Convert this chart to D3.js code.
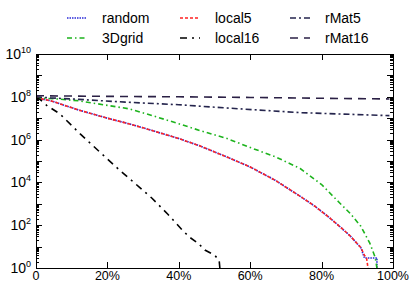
<!DOCTYPE html>
<html lang="en">
    <head>
        <meta charset="utf-8">
        <style type="text/css">
            body { margin: 0; background: #fff; }
            text { font-family: "Liberation Sans", Arial, sans-serif; fill: #000; }
            .frame { fill: none; stroke: #000; stroke-width: 1px; }
            .tick { stroke: #000; stroke-width: 1px; }
            .series { fill: none; stroke-width: 1.6px; }
        </style>
    </head>
    <body>
        <svg width="416" height="292"></svg>

        <script src="https://d3js.org/d3.v7.min.js"></script>
        <script>
            // x = percent of vertices, y = log10 of the count
            var randomX = [0, 4, 8, 12, 20, 26, 30, 40, 46, 54, 60, 67, 74, 78, 82, 85, 88, 91, 92, 95.5, 95.5];
            var randomY = [7.95, 7.82, 7.6, 7.38, 7.0, 6.74, 6.55, 6.05, 5.7, 5.15, 4.72, 4.1, 3.35, 2.9, 2.38, 1.95, 1.5, 0.95, 0.47, 0.47, 0];

            var local5X = [0, 4, 8, 12, 20, 26, 30, 40, 46, 54, 60, 67, 74, 78, 82, 85, 88, 91, 92, 92.6, 93];
            var local5Y = [7.95, 7.82, 7.6, 7.38, 7.0, 6.74, 6.55, 6.05, 5.7, 5.15, 4.72, 4.1, 3.35, 2.9, 2.38, 1.95, 1.5, 0.95, 0.6, 0.45, 0];

            var gridX = [0, 6, 12, 20, 26, 33, 40, 46, 53.5, 60, 67, 74, 80, 85, 88, 91, 93.5, 95, 95.5];
            var gridY = [7.95, 7.9, 7.81, 7.6, 7.44, 7.1, 6.74, 6.42, 6.05, 5.63, 5.2, 4.65, 3.9, 3.05, 2.55, 1.95, 1.16, 0.5, 0];

            var local16X = [0, 1.1, 3, 6.7, 12.3, 18, 23.5, 29, 32.5, 37, 41, 43, 45.4, 47.3, 50, 51.3, 51.5];
            var local16Y = [7.95, 7.88, 7.6, 7.2, 6.28, 5.4, 4.56, 3.77, 3.26, 2.5, 1.77, 1.44, 1.16, 0.84, 0.6, 0.37, 0];

            var rMat5X = [0, 4, 12, 25, 40, 54, 74, 88, 99];
            var rMat5Y = [8.0, 7.95, 7.88, 7.75, 7.63, 7.47, 7.26, 7.18, 7.12];

            var rMat16X = [0, 20, 40, 60, 80, 99];
            var rMat16Y = [8.05, 8.02, 8.0, 7.97, 7.93, 7.9];

            var xTicks = [0, 20, 40, 60, 80, 100];
            var xTickLabels = ["0", "20%", "40%", "60%", "80%", "100%"];
            var yLabelExps = [0, 2, 4, 6, 8, 10];

            var series = [
                {name: "random",  xs: randomX,  ys: randomY,  color: "#2a2ad8", dash: "1.5,1",       col: 0, row: 0},
                {name: "3Dgrid",  xs: gridX,    ys: gridY,    color: "#1db31d", dash: "5,3,1.5,3",   col: 0, row: 1},
                {name: "local5",  xs: local5X,  ys: local5Y,  color: "#ff2222", dash: "3,2",         col: 1, row: 0},
                {name: "local16", xs: local16X, ys: local16Y, color: "#000000", dash: "7,5,2,5",     col: 1, row: 1},
                {name: "rMat5",   xs: rMat5X,   ys: rMat5Y,   color: "#25254d", dash: "6,3,2,3",     col: 2, row: 0},
                {name: "rMat16",  xs: rMat16X,  ys: rMat16Y,  color: "#2b2045", dash: "8,6",         col: 2, row: 1}
            ];

            var svg = d3.select("svg");
            var pl = 36, pr = 393, pt = 54, pb = 268;

            var x = d3.scaleLinear().domain([0, 100]).range([pl, pr]);
            var y = d3.scaleLog().domain([1, 1e10]).range([pb, pt]);

            // minor ticks 2..9 per decade, larger at each decade
            var yMinor = [];
            for (var e = 0; e < 10; e++) {
                for (var n = 2; n < 10; n++) yMinor.push(n * Math.pow(10, e));
            }
            var yMajor = d3.range(0, 11).map(function (e) { return Math.pow(10, e); });

            var ticks = svg.append("g");
            ticks.selectAll(".ym").data(yMinor).enter().append("path")
                .attr("class", "tick")
                .attr("d", function (d) {
                    var yy = Math.round(y(d)) + 0.5;
                    return "M" + pl + "," + yy + "h3M" + pr + "," + yy + "h-3";
                });
            ticks.selectAll(".yM").data(yMajor).enter().append("path")
                .attr("class", "tick")
                .attr("d", function (d) {
                    var yy = Math.round(y(d)) + 0.5;
                    return "M" + pl + "," + yy + "h6M" + pr + "," + yy + "h-6";
                });
            ticks.selectAll(".xM").data(xTicks).enter().append("path")
                .attr("class", "tick")
                .attr("d", function (d) {
                    var xx = Math.round(x(d)) + 0.5;
                    return "M" + xx + "," + pb + "v-6M" + xx + "," + pt + "v6";
                });

            svg.append("clipPath").attr("id", "plotclip")
                .append("rect").attr("x", pl).attr("y", pt)
                .attr("width", pr - pl).attr("height", pb - pt + 1);

            var line = d3.line()
                .x(function (d) { return x(d[0]); })
                .y(function (d) { return y(Math.pow(10, d[1])); });

            svg.append("g").attr("clip-path", "url(#plotclip)")
                .selectAll(".series").data(series).enter().append("path")
                .attr("class", "series")
                .attr("stroke", function (d) { return d.color; })
                .attr("stroke-dasharray", function (d) { return d.dash; })
                .attr("d", function (d) { return line(d.xs.map(function (v, i) { return [v, d.ys[i]]; })); });

            svg.append("rect").attr("class", "frame")
                .attr("x", pl + 0.5).attr("y", pt + 0.5)
                .attr("width", pr - pl).attr("height", pb - pt);

            // y labels: 10^k
            var yl = svg.selectAll(".ylab").data(yLabelExps).enter().append("text")
                .attr("class", "ylab")
                .attr("x", 31)
                .attr("y", function (d) { return y(Math.pow(10, d)) + 5; })
                .attr("text-anchor", "end")
                .style("font-size", "14px");
            yl.append("tspan").text("10");
            yl.append("tspan").attr("dy", -6).style("font-size", "9px").text(function (d) { return d; });

            svg.selectAll(".xlab").data(xTicks).enter().append("text")
                .attr("x", function (d) { return x(d); })
                .attr("y", 280)
                .attr("text-anchor", "middle")
                .style("font-size", "12.5px")
                .text(function (d, i) { return xTickLabels[i]; });

            // legend
            var colX = [67, 180, 290], rowY = [18, 38];
            var lg = svg.selectAll(".leg").data(series).enter().append("g")
                .attr("transform", function (d) { return "translate(" + colX[d.col] + "," + rowY[d.row] + ")"; });
            lg.append("line")
                .attr("x1", 0).attr("x2", 20).attr("y1", 0).attr("y2", 0)
                .attr("class", "series")
                .attr("stroke", function (d) { return d.color; })
                .attr("stroke-dasharray", function (d) { return d.dash; });
            lg.append("text")
                .attr("x", 35).attr("y", 5)
                .style("font-size", "14px")
                .text(function (d) { return d.name; });
        </script>
    </body>
</html>
